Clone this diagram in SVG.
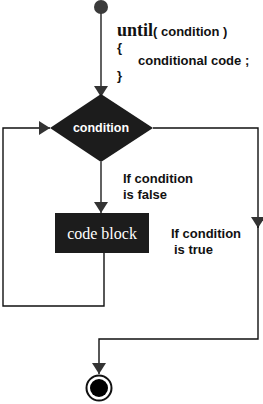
<svg xmlns="http://www.w3.org/2000/svg" width="263" height="404" viewBox="0 0 263 404">
<style>
.ln{fill:none;stroke:#3a3a3a;stroke-width:1.6}
.ol{fill:none;stroke:#111;stroke-width:1.4}
.lbl{font-family:"Liberation Sans",Arial,sans-serif;font-weight:bold;font-size:13px;fill:#111}
.wt{fill:#fff;font-size:12.5px}
</style>
<defs>
<marker id="ah" markerWidth="11" markerHeight="14" refX="11" refY="7" orient="auto" markerUnits="userSpaceOnUse">
<path d="M0,0 L11,7 L0,14 Z" fill="#333"/>
</marker>
</defs>
<rect width="263" height="404" fill="#fff"/>
<g id="connectors">
<line class="ln" x1="101" y1="10" x2="101" y2="97" marker-end="url(#ah)"/>
<polyline class="ol" points="104,253 104,306 3,306 3,128 50,128" marker-end="url(#ah)"/>
<line class="ln" x1="101" y1="162" x2="101" y2="213" marker-end="url(#ah)"/>
<polyline class="ol" points="153,128 258,128 258,228" marker-end="url(#ah)"/>
<polyline class="ol" points="258,226 258,339 99,339 99,374" marker-end="url(#ah)"/>
</g>
<g id="start"><circle cx="101" cy="7" r="7" fill="#3a3a3a"/></g>
<g id="code-text">
<text x="117" y="36" font-family="'Liberation Serif','Times New Roman',serif" font-weight="bold" font-size="18" fill="#111">until<tspan font-family="'Liberation Sans',Arial,sans-serif" font-size="13">( condition )</tspan></text>
<text class="lbl" x="117" y="52">{</text>
<text class="lbl" x="138" y="65">conditional code ;</text>
<text class="lbl" x="117" y="80">}</text>
</g>
<g id="decision">
<polygon points="101,94 153,128 101,162 50,128" fill="#1c1c1c"/>
<text class="lbl wt" x="101" y="132" text-anchor="middle">condition</text>
</g>
<g id="code-block">
<rect x="55" y="213" width="94" height="40" fill="#1c1c1c"/>
<text x="102" y="239" text-anchor="middle" font-family="'Liberation Serif','Times New Roman',serif" font-size="16" fill="#fff">code block</text>
</g>
<g id="label-false">
<text class="lbl" x="123" y="183">If condition</text>
<text class="lbl" x="123" y="199">is false</text>
</g>
<g id="label-true">
<text class="lbl" x="171" y="238">If condition</text>
<text class="lbl" x="174" y="254">is true</text>
</g>
<g id="end">
<circle cx="99" cy="388" r="12.5" fill="#fff" stroke="#111" stroke-width="2"/>
<circle cx="99" cy="388" r="9" fill="#000"/>
</g>
</svg>
